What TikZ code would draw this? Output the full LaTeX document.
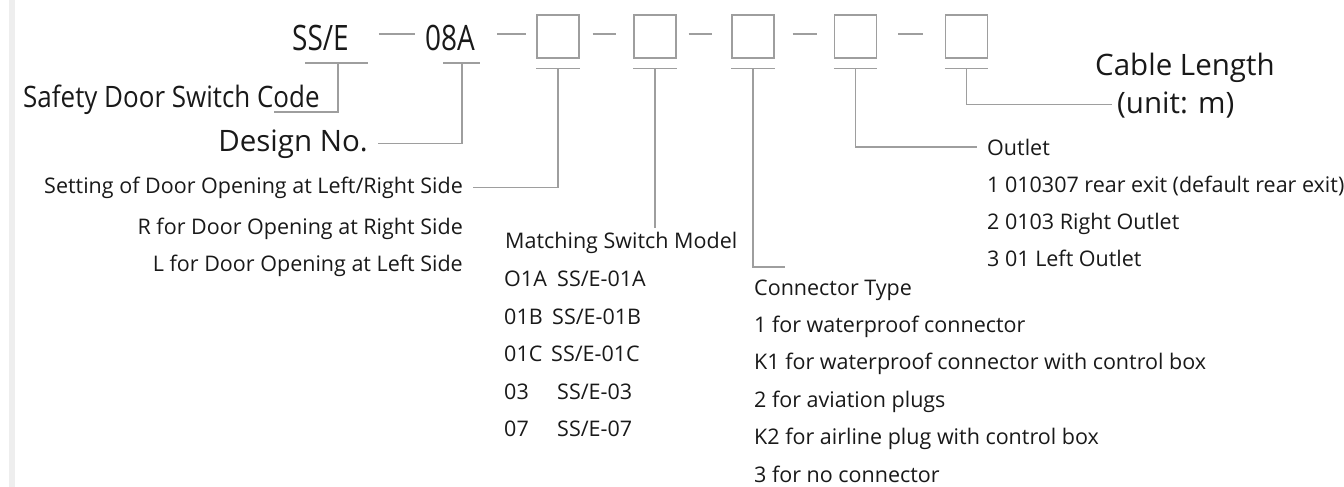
\documentclass[tikz,border=0pt]{standalone}
\usepackage{fontspec}
\setmainfont{Open Sans}
\usepackage{graphicx}
\definecolor{ln}{RGB}{158,158,158}
\definecolor{tx}{RGB}{25,25,25}
\definecolor{bar}{RGB}{238,238,238}
\begin{document}
\begin{tikzpicture}[x=1pt,y=-1pt,
  line/.style={draw=ln, line width=1.3pt},
  box/.style={draw=ln, line width=1.3pt, minimum width=42pt, minimum height=43pt, inner sep=0pt},
  big/.style={font=\fontsize{29.5}{32}\selectfont, text=tx, inner sep=0pt},
  small/.style={font=\fontsize{21.5}{24}\selectfont, text=tx, inner sep=0pt},
  code/.style={font=\fontsize{35}{40}\selectfont, text=tx, inner sep=0pt}]
\useasboundingbox (0,0) rectangle (1344,487);
\fill[bar] (9,0) rectangle (15,487);

% code line
\node[code, anchor=base west] (ss) at (292,51) {\scalebox{0.8}[1]{SS/E}};
\node[code, anchor=base west] (d8) at (425,51) {\scalebox{0.8}[1]{08A}};
\node[box] (b1) at (558,36.5) {};
\node[box] (b2) at (655,36.5) {};
\node[box] (b3) at (753,36.5) {};
\node[box] (b4) at (855.5,36.5) {};
\node[box] (b5) at (966.5,36.5) {};

% dashes
\draw[line] ([xshift=30pt]ss.east |- 0,34) -- ([xshift=-10pt]d8.west |- 0,34);
\draw[line] ([xshift=22pt]d8.east |- 0,34) -- ([xshift=-10pt]b1.west |- 0,34);
\draw[line] ([xshift=13pt]b1.east |- 0,34) -- ([xshift=-17pt]b2.west |- 0,34);
\draw[line] ([xshift=12pt]b2.east |- 0,34) -- ([xshift=-19pt]b3.west |- 0,34);
\draw[line] ([xshift=18pt]b3.east |- 0,34) -- ([xshift=-17pt]b4.west |- 0,34);
\draw[line] ([xshift=21pt]b4.east |- 0,34) -- ([xshift=-22pt]b5.west |- 0,34);

% underlines
\draw[line] (305,63) -- (368,63);
\draw[line] (443,63) -- (480,63);
\foreach \b in {b1,b2,b3,b4,b5}{
  \draw[line] ([yshift=-10pt]\b.south west) -- ([yshift=-10pt]\b.south east);
}

% labels
\node[big, anchor=base west] (sdc) at (23,107) {\scalebox{0.88}[1]{Safety Door Switch Code}};
\node[big, anchor=base east] (dno) at (368,151) {Design No.};
\node[big, anchor=base west] (cab) at (1095,75) {Cable Length};
\node[big, anchor=base west] (unit) at (1117,113) {(unit: m)};

\node[small, anchor=base east] (set) at (463,193) {Setting of Door Opening at Left/Right Side};
\node[small, anchor=base east] (rr) at (463,234) {R for Door Opening at Right Side};
\node[small, anchor=base east] (ll) at (463,271) {L for Door Opening at Left Side};

\node[small, anchor=base west] (msm) at (505,248) {Matching Switch Model};
\node[small, anchor=base west] (m1) at (504,286) {O1A};
\node[small, anchor=base west] (m1b) at (557,286) {SS/E-01A};
\node[small, anchor=base west] (m2) at (504,324) {01B};
\node[small, anchor=base west] (m2b) at (552,324) {SS/E-01B};
\node[small, anchor=base west] (m3) at (504,361) {01C};
\node[small, anchor=base west] (m3b) at (551,361) {SS/E-01C};
\node[small, anchor=base west] (m4) at (504,399) {03};
\node[small, anchor=base west] (m4b) at (557,399) {SS/E-03};
\node[small, anchor=base west] (m5) at (504,436) {07};
\node[small, anchor=base west] (m5b) at (557,436) {SS/E-07};

\node[small, anchor=base west] (ct) at (754,295) {Connector Type};
\node[small, anchor=base west] (c1) at (754,332) {1 for waterproof connector};
\node[small, anchor=base west] (c2) at (754,369) {K1 for waterproof connector with control box};
\node[small, anchor=base west] (c3) at (754,407) {2 for aviation plugs};
\node[small, anchor=base west] (c4) at (754,444) {K2 for airline plug with control box};
\node[small, anchor=base west] (c5) at (754,482) {3 for no connector};

\node[small, anchor=base west] (out) at (987,155) {Outlet};
\node[small, anchor=base west] (o1) at (987,192) {1 010307 rear exit (default rear exit)};
\node[small, anchor=base west] (o2) at (987,229) {2 0103 Right Outlet};
\node[small, anchor=base west] (o3) at (987,266) {3 01 Left Outlet};

% connectors
\coordinate (ssu) at (338,63);
\draw[line] (ssu) |- ([xshift=-46pt,yshift=-5pt]sdc.base east) coordinate (ssend);
\coordinate (d8u) at (462,63);
\draw[line] (d8u) |- ([xshift=10pt]dno.east);
\draw[line] ([yshift=-10pt]b1.south) |- ([xshift=10pt]set.east);
\coordinate (b2end) at (655,228);
\draw[line] ([yshift=-10pt]b2.south) -- (b2end);
\draw[line] ([yshift=-10pt]b3.south) |- ([xshift=32pt]b3.south |- 0,267) coordinate (cend);
\draw[line] ([yshift=-10pt]b4.south) |- ([xshift=-10pt]out.west);
\draw[line] ([yshift=-10pt]b5.south) |- ([xshift=-5pt]unit.west);
\end{tikzpicture}
\end{document}
